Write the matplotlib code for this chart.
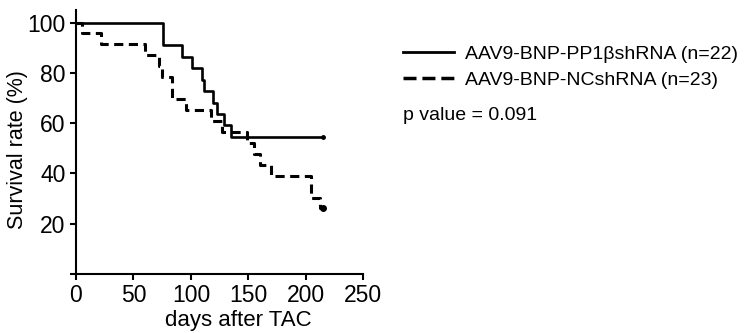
import matplotlib
matplotlib.use("Agg")
import matplotlib.pyplot as plt
from matplotlib.lines import Line2D

plt.rcParams['font.family'] = ['Liberation Sans', 'DejaVu Sans']

# Kaplan-Meier steps (days, survival %)
pp1_days = [0, 76, 92.5, 101, 109.5, 111, 119.5, 122.5, 128.5, 134.5, 215]
pp1_surv = [100, 90.9, 86.4, 81.8, 77.3, 72.7, 68.2, 63.6, 59.1, 54.5, 54.5]

nc_days = [0, 5, 22, 60, 72, 74.5, 83.5, 96, 117.5, 127, 149, 155, 160.5, 170, 204.5, 212.5, 215]
nc_surv = [100, 95.7, 91.3, 87.0, 82.6, 78.3, 69.6, 65.2, 60.9, 56.5, 52.2, 47.8, 43.5, 39.1, 30.4, 26.1, 26.1]

labels = ['AAV9-BNP-PP1\u03b2shRNA (n=22)', 'AAV9-BNP-NCshRNA (n=23)']
p_text = 'p value = 0.091'

xticks = [0, 50, 100, 150, 200, 250]
yticks = [0, 20, 40, 60, 80, 100]
ytick_labels = ['', '20', '40', '60', '80', '100']

fig = plt.figure(figsize=(7.45, 3.33), dpi=100)
ax = fig.add_axes([0.102, 0.177, 0.3857, 0.793])

ax.step(pp1_days, pp1_surv, where='post', color='black', lw=1.9)
ax.step(nc_days, nc_surv, where='post', color='black', lw=2.2, dashes=(3, 1.8))
ax.plot(pp1_days[-1], pp1_surv[-1], 'o', color='black', ms=2.5)
ax.plot(nc_days[-1], nc_surv[-1], 'o', color='black', ms=4)

ax.set_xlim(0, 250)
ax.set_ylim(0, 105)
ax.spines['top'].set_visible(False)
ax.spines['right'].set_visible(False)
ax.spines['left'].set_linewidth(1.5)
ax.spines['bottom'].set_linewidth(1.5)
ax.spines['bottom'].set_bounds(0, 250)

ax.set_xticks(xticks)
ax.set_yticks(yticks)
ax.set_yticklabels(ytick_labels)
ax.tick_params(axis='both', direction='out', length=4.5, width=1.5, labelsize=16.5, pad=3)

ax.set_xlabel('days after TAC', fontsize=16)
ax.xaxis.set_label_coords(0.566, -0.135)
ax.set_ylabel('Survival rate (%)', fontsize=15.5)
ax.yaxis.set_label_coords(-0.167, 0.473)

handles = [Line2D([], [], color='black', lw=2.0),
           Line2D([], [], color='black', lw=2.5, dashes=(3.75, 1.7))]
fig.legend(handles, labels, loc='upper left', bbox_to_anchor=(0.541, 0.863),
           frameon=False, fontsize=14, handlelength=2.6, handletextpad=0.6,
           labelspacing=0.4, borderpad=0, borderaxespad=0)

fig.text(0.541, 0.654, p_text, fontsize=14, va='center', ha='left')

fig.savefig('out.png', dpi=100)
